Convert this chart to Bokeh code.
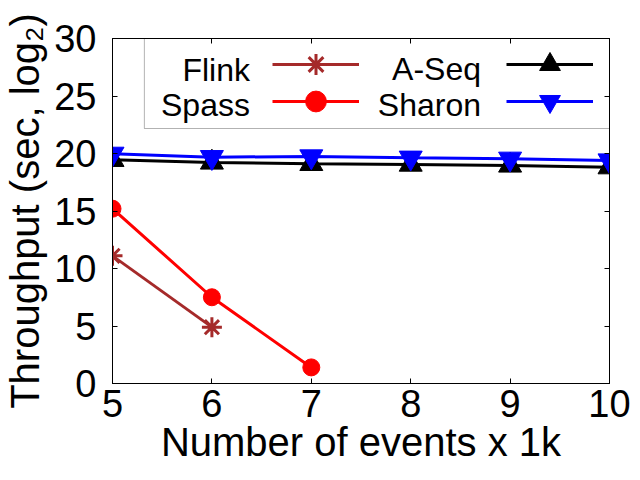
from bokeh.plotting import figure
from bokeh.models import (Range1d, LinearAxis, FixedTicker, Legend, LegendItem,
                          Label, BoxAnnotation)
from bokeh.embed import file_html
from bokeh.resources import INLINE

# ---- data ----
events = [5, 6, 7, 8, 9, 10]
flink_x = [5, 6]
flink = [11.1, 4.9]
spass_x = [5, 6, 7]
spass = [15.2, 7.5, 1.4]
aseq = [19.45, 19.22, 19.10, 19.04, 18.96, 18.81]
sharon = [19.97, 19.68, 19.74, 19.63, 19.54, 19.39]
x_ticks = [5, 6, 7, 8, 9, 10]
y_ticks = [0, 5, 10, 15, 20, 25, 30]
names = ["Flink", "Spass", "A-Seq", "Sharon"]
x_title = "Number of events x 1k"
y_title = "Throughput (sec, log\u2082)"

# ---- style / layout ----
FONT = "Liberation Sans"
BROWN = "#a52a2a"
X0, X1, Y0, Y1 = 5, 10, 0, 30
FRAME_W, FRAME_H = 499, 345

p = figure(width=640, height=480, x_range=Range1d(X0, X1), y_range=Range1d(Y0, Y1),
           output_backend="svg", toolbar_location=None,
           min_border_left=110, min_border_right=31, min_border_top=38,
           min_border_bottom=97)
p.grid.visible = False
p.outline_line_color = "black"
p.outline_line_width = 1
p.outline_line_alpha = 1
p.background_fill_color = "white"
p.border_fill_color = "white"

p.xaxis.ticker = FixedTicker(ticks=x_ticks)
p.yaxis.ticker = FixedTicker(ticks=y_ticks)
p.xaxis.axis_label = x_title
p.yaxis.axis_label = y_title
for ax in (p.xaxis, p.yaxis):
    ax.axis_line_color = "black"
    ax.major_tick_line_color = "black"
    ax.major_tick_in = 5
    ax.major_tick_out = 0
    ax.minor_tick_in = 0
    ax.minor_tick_out = 0
    ax.major_label_text_font = FONT
    ax.major_label_text_font_size = "38px"
    ax.major_label_text_color = "black"
    ax.axis_label_text_font = FONT
    ax.axis_label_text_font_size = "40px"
    ax.axis_label_text_font_style = "normal"
    ax.axis_label_text_color = "black"
p.xaxis.major_label_standoff = 6
p.xaxis.axis_label_standoff = 0
p.yaxis.major_label_standoff = 16
p.yaxis.axis_label_standoff = 4

# mirrored ticks
for side, ticks in (("above", x_ticks), ("right", y_ticks)):
    ax = LinearAxis(ticker=FixedTicker(ticks=ticks), major_tick_in=5, major_tick_out=0,
                    minor_tick_in=0, minor_tick_out=0, major_label_text_font_size="1px",
                    major_label_text_color=None, major_label_standoff=0,
                    axis_line_color="black", major_tick_line_color="black")
    p.add_layout(ax, side)

# ---- series ----
fl_l = p.line(flink_x, flink, line_color=BROWN, line_width=3)
fl_m = p.scatter(flink_x, flink, marker="asterisk", size=20, line_color=BROWN, line_width=3)
sp_l = p.line(spass_x, spass, line_color="red", line_width=3)
sp_m = p.scatter(spass_x, spass, marker="circle", size=17, fill_color="red", line_color="red")
as_l = p.line(events, aseq, line_color="black", line_width=3)
as_m = p.scatter(events, aseq, marker="triangle", size=23, fill_color="black", line_color="black")
sh_l = p.line(events, sharon, line_color="blue", line_width=3)
sh_m = p.scatter(events, sharon, marker="inverted_triangle", size=23, fill_color="blue", line_color="blue")

# ---- legend (gnuplot style: text left of sample) ----
def fx(px):
    return X0 + px * (X1 - X0) / FRAME_W

def fy(py):
    return Y1 - py * (Y1 - Y0) / FRAME_H

p.add_layout(BoxAnnotation(left=fx(32), right=X1, top=Y1, bottom=fy(90),
                           fill_color=None, line_color="black", line_width=1))

def legend_row(items, vy):
    lg = Legend(items=items, orientation="horizontal", location=(160, vy),
                glyph_width=87, glyph_height=52, label_width=147, label_height=0,
                label_standoff=0, spacing=0, padding=0, margin=0,
                label_text_font_size="1px", label_text_alpha=0,
                background_fill_alpha=0, border_line_alpha=0)
    p.add_layout(lg)

legend_row([LegendItem(label=" ", renderers=[fl_l, fl_m]),
            LegendItem(label=" ", renderers=[as_l, as_m])], 293)
legend_row([LegendItem(label=" ", renderers=[sp_l, sp_m]),
            LegendItem(label=" ", renderers=[sh_l, sh_m])], 256)

for name, px, py in ((names[0], 138, 31), (names[1], 138, 66),
                     (names[2], 370, 30), (names[3], 370, 66)):
    p.add_layout(Label(x=fx(px), y=fy(py), text=name, text_align="right",
                       text_baseline="alphabetic", text_font=FONT,
                       text_font_size="32px", text_color="black"))

open("out.html", "w").write(file_html(p, INLINE))
